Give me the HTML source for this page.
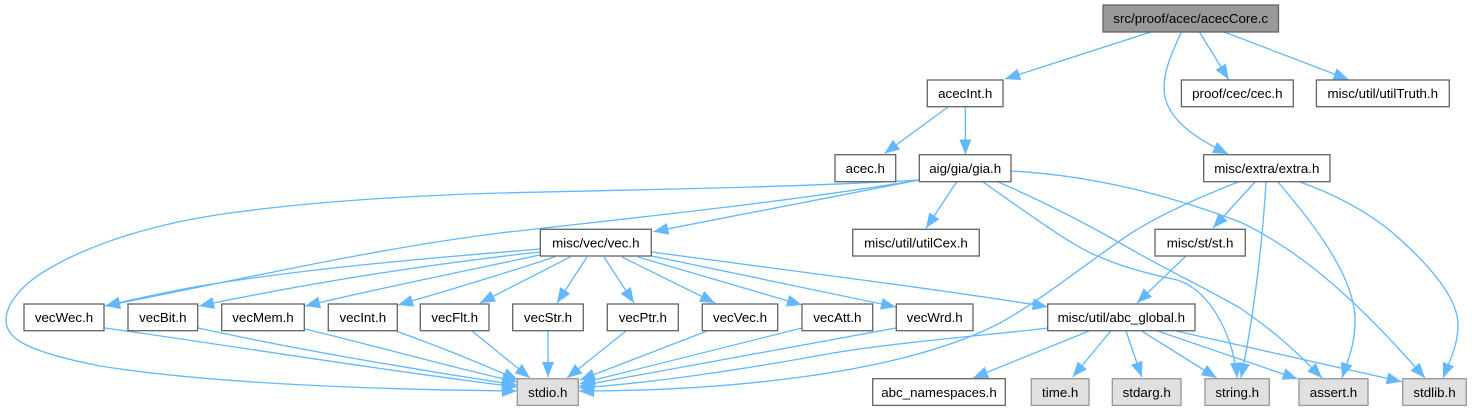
<!DOCTYPE html>
<html><head><meta charset="utf-8">
<style>
html,body{margin:0;padding:0;background:#fff;width:1472px;height:411px;overflow:hidden}
svg{display:block}
text{font-family:"Liberation Sans",Arial,sans-serif;font-size:13.33px;text-anchor:middle;fill:#000}
.e{fill:none;stroke:#63b8ff;stroke-width:1.33;marker-end:url(#a)}
.n{fill:#fff;stroke:#666;stroke-width:1.33}
.g{fill:#e0e0e0;stroke:#999;stroke-width:1.33}
.r{fill:#999;stroke:#666;stroke-width:1.33}
</style></head><body>
<svg width="1472" height="411" viewBox="0 0 1472 411" xmlns="http://www.w3.org/2000/svg">
<defs><marker id="a" markerUnits="userSpaceOnUse" markerWidth="16" markerHeight="14" refX="15" refY="6" orient="auto" overflow="visible"><path d="M0 0L15 6L0 12Z" fill="#63b8ff"/></marker></defs>
<path class="e" d="M1151 32L1005 79"/>
<path class="e" d="M1181.5 32C1172 52 1164 70 1164 88C1164 118 1195 138 1228 154"/>
<path class="e" d="M1199.5 32L1228.6 79.5"/>
<path class="e" d="M1224.3 32L1348.6 79.5"/>
<path class="e" d="M948 107L884.4 153.5"/>
<path class="e" d="M965.4 107L965.4 154.5"/>
<path class="e" d="M919 180L653.3 231.7"/>
<path class="e" d="M956.7 181.7L926 228.3"/>
<path class="e" d="M919 180C780 203 640 217 500 233C365 250 230 282 105 306"/>
<path class="e" d="M919 180C780 188 620 190 500 193C400 196 310 202 230 213C150 224 90 245 50 268C20 285 6 305 6 320C6 340 30 352 100 366C220 385 400 390 517 391"/>
<path class="e" d="M983 182C1030 215 1075 248 1100 257C1125 268 1150 274 1177 280C1215 292 1235 345 1237 378"/>
<path class="e" d="M996 181C1040 200 1085 223 1120 243C1170 272 1200 285 1240 308C1275 332 1295 350 1322 378"/>
<path class="e" d="M1011 171C1090 175 1170 195 1240 222C1310 255 1370 315 1425 378"/>
<path class="e" d="M1238 182C1200 197 1160 215 1133 232C1090 260 1045 298 1000 323C900 375 720 391 579 391"/>
<path class="e" d="M1255 182L1213 228"/>
<path class="e" d="M1266 182C1263 235 1255 310 1241 378"/>
<path class="e" d="M1278 182C1310 220 1355 275 1355 320C1355 345 1348 360 1342 378"/>
<path class="e" d="M1300 182C1345 198 1375 218 1393 233C1435 270 1458 300 1458 325C1458 345 1450 360 1443 378"/>
<path class="e" d="M1186 256L1137 303"/>
<path class="e" d="M540 249C430 258 310 268 200 286C165 292 135 299 105 306"/>
<path class="e" d="M540 252C430 264 310 283 199 306"/>
<path class="e" d="M540 255C460 272 380 288 305 306"/>
<path class="e" d="M555 256.7C500 275 450 290 398 305"/>
<path class="e" d="M570.7 256.7L480 303"/>
<path class="e" d="M587 257L557 303"/>
<path class="e" d="M604 257L634 303"/>
<path class="e" d="M622 257L715 303"/>
<path class="e" d="M638 257L802 305"/>
<path class="e" d="M651.7 256L896 307"/>
<path class="e" d="M651.7 252C800 272 930 288 1047.7 306.7"/>
<path class="e" d="M105 328C240 347 380 370 517 387"/>
<path class="e" d="M198 328C290 348 410 369 517 385"/>
<path class="e" d="M305 329C380 347 450 367 517 382"/>
<path class="e" d="M396 331C435 345 480 363 518 380"/>
<path class="e" d="M472 331L530 378"/>
<path class="e" d="M548 331L548 377"/>
<path class="e" d="M626 331L567 378"/>
<path class="e" d="M707 331L580 380"/>
<path class="e" d="M802 328L580 383.5"/>
<path class="e" d="M896 328L579 386"/>
<path class="e" d="M1048 328C1000 334 900 342 833 353C740 370 660 382 579 388"/>
<path class="e" d="M1089 331L973 378"/>
<path class="e" d="M1110.7 331L1072.7 377"/>
<path class="e" d="M1126 331L1141.7 377"/>
<path class="e" d="M1141.7 331L1216.7 378"/>
<path class="e" d="M1157.7 331L1297.7 379"/>
<path class="e" d="M1176 331L1401.7 381.7"/>

<rect class="r" x="1103" y="5" width="175.5" height="27"/><text x="1190.7" y="23">src/proof/acec/acecCore.c</text>
<rect class="n" x="927.3" y="80" width="75.7" height="26.7"/><text x="965.2" y="98">acecInt.h</text>
<rect class="n" x="1181.4" y="80" width="111.9" height="26.7"/><text x="1237.3" y="98">proof/cec/cec.h</text>
<rect class="n" x="1316.4" y="80" width="132.9" height="26.7"/><text x="1382.8" y="98">misc/util/utilTruth.h</text>
<rect class="n" x="835" y="154.7" width="60.7" height="27"/><text x="865.3" y="173">acec.h</text>
<rect class="n" x="919.3" y="154.7" width="91.7" height="27"/><text x="965.2" y="173">aig/gia/gia.h</text>
<rect class="n" x="1203.7" y="154.7" width="126.3" height="27"/><text x="1266.8" y="173">misc/extra/extra.h</text>
<rect class="n" x="540.3" y="229.3" width="111" height="26.7"/><text x="595.8" y="247.5">misc/vec/vec.h</text>
<rect class="n" x="852.7" y="229.3" width="126.6" height="26.7"/><text x="916" y="247.5">misc/util/utilCex.h</text>
<rect class="n" x="1155" y="229.3" width="90.3" height="26.7"/><text x="1200.1" y="247.5">misc/st/st.h</text>
<rect class="n" x="24" y="304" width="80" height="26.7"/><text x="64" y="322">vecWec.h</text>
<rect class="n" x="128" y="304" width="69.7" height="26.7"/><text x="162.8" y="322">vecBit.h</text>
<rect class="n" x="221.7" y="304" width="82.6" height="26.7"/><text x="263" y="322">vecMem.h</text>
<rect class="n" x="328.3" y="304" width="69" height="26.7"/><text x="362.8" y="322">vecInt.h</text>
<rect class="n" x="420.3" y="304" width="68.7" height="26.7"/><text x="454.7" y="322">vecFlt.h</text>
<rect class="n" x="512.7" y="304" width="70.6" height="26.7"/><text x="548" y="322">vecStr.h</text>
<rect class="n" x="607.3" y="304" width="71" height="26.7"/><text x="642.8" y="322">vecPtr.h</text>
<rect class="n" x="702.3" y="304" width="75.4" height="26.7"/><text x="740" y="322">vecVec.h</text>
<rect class="n" x="802" y="304" width="70.7" height="26.7"/><text x="837.3" y="322">vecAtt.h</text>
<rect class="n" x="896.3" y="304" width="76.7" height="26.7"/><text x="934.7" y="322">vecWrd.h</text>
<rect class="n" x="1047.7" y="304" width="147.3" height="26.7"/><text x="1121.3" y="322">misc/util/abc_global.h</text>
<rect class="g" x="517.3" y="378.7" width="61" height="26.7"/><text x="547.8" y="397">stdio.h</text>
<rect class="n" x="872.7" y="378.7" width="132.6" height="26.7"/><text x="939" y="397">abc_namespaces.h</text>
<rect class="g" x="1031.3" y="378.7" width="57.7" height="26.7"/><text x="1060.2" y="397">time.h</text>
<rect class="g" x="1112.3" y="378.7" width="68.7" height="26.7"/><text x="1146.7" y="397">stdarg.h</text>
<rect class="g" x="1205" y="378.7" width="64.3" height="26.7"/><text x="1237.2" y="397">string.h</text>
<rect class="g" x="1299" y="378.7" width="69" height="26.7"/><text x="1333.5" y="397">assert.h</text>
<rect class="g" x="1402.7" y="378.7" width="63.6" height="26.7"/><text x="1434.5" y="397">stdlib.h</text>
</svg>
</body></html>
